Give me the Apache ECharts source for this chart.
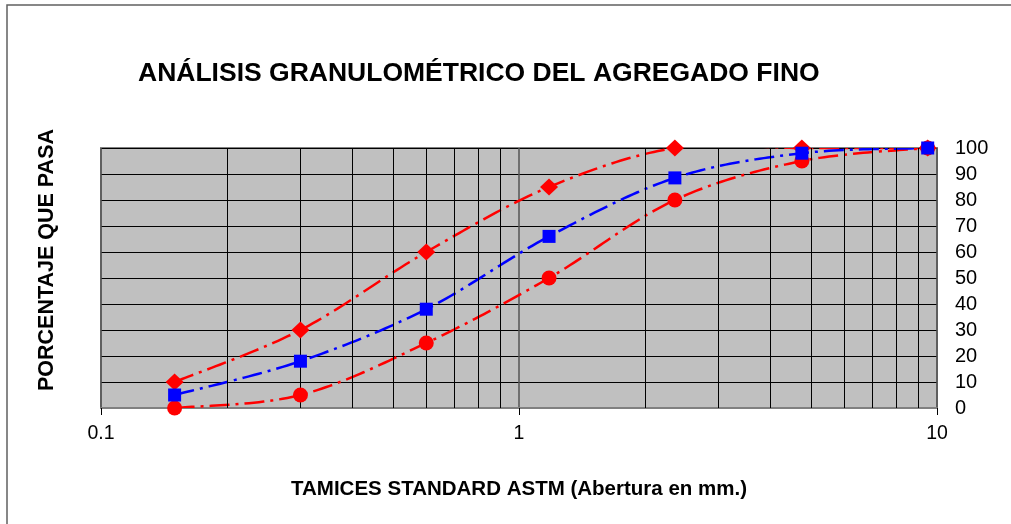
<!DOCTYPE html>
<html>
<head>
<meta charset="utf-8">
<script src="https://cdn.jsdelivr.net/npm/echarts@6/dist/echarts.min.js"></script>
<style>
  html, body { margin: 0; padding: 0; background: #fff; }
  #chart { width: 1011px; height: 524px; }
</style>
</head>
<body>
<div id="chart"></div>
<script>
// Sieve openings (mm)
const sieves = [0.15, 0.3, 0.6, 1.18, 2.36, 4.75, 9.5];
// Upper grading limit (red diamonds)
const upperLimit = [10, 30, 60, 85, 100, 100, 100];
// Sample (blue squares)
const sample = [5, 18, 38, 66, 88.5, 98, 100];
// Lower grading limit (red circles)
const lowerLimit = [0, 5, 25, 50, 80, 95, 100];
// Log-axis minor grid values
const minorGridX = [0.2, 0.3, 0.4, 0.5, 0.6, 0.7, 0.8, 0.9, 2, 3, 4, 5, 6, 7, 8, 9];
const xTickLabels = { 0.1: '0.1', 1: '1', 10: '10' };

const FONT = 'Liberation Sans, Arial, sans-serif';
const dashDot = [20, 6, 3, 6];

function pairs(ys) { return sieves.map((x, i) => [x, ys[i]]); }

// Smooth (Catmull-Rom style, like spreadsheet smoothed lines) curve through data, via the axis scales
function smoothCurveSeries(ys, color, z) {
  return {
    type: 'custom',
    coordinateSystem: 'cartesian2d',
    clip: true,
    silent: true,
    z: z,
    data: [[sieves[0], ys[0]]],
    renderItem: function (params, api) {
      const p = sieves.map((x, i) => api.coord([x, ys[i]]));
      const n = p.length;
      const out = [];
      for (let i = 0; i < n - 1; i++) {
        const p0 = p[Math.max(i - 1, 0)], p1 = p[i], p2 = p[i + 1], p3 = p[Math.min(i + 2, n - 1)];
        const c1 = [p1[0] + (p2[0] - p0[0]) / 6, p1[1] + (p2[1] - p0[1]) / 6];
        const c2 = [p2[0] - (p3[0] - p1[0]) / 6, p2[1] - (p3[1] - p1[1]) / 6];
        const steps = 30;
        for (let s = (i === 0 ? 0 : 1); s <= steps; s++) {
          const t = s / steps, u = 1 - t;
          out.push([
            u*u*u*p1[0] + 3*u*u*t*c1[0] + 3*u*t*t*c2[0] + t*t*t*p2[0],
            u*u*u*p1[1] + 3*u*u*t*c1[1] + 3*u*t*t*c2[1] + t*t*t*p2[1]
          ]);
        }
      }
      const cs = params.coordSys;
      return {
        type: 'polyline',
        shape: { points: out },
        style: { stroke: color, lineWidth: 2.5, lineDash: dashDot, fill: null },
        clipPath: { type: 'rect', shape: { x: cs.x, y: cs.y - 1, width: cs.width, height: cs.height + 1 } }
      };
    }
  };
}

function markerSeries(ys, symbol, size, color, z) {
  return {
    type: 'line',
    data: pairs(ys),
    z: z,
    symbol: symbol,
    symbolSize: size,
    showAllSymbol: true,
    itemStyle: { color: color },
    lineStyle: { width: 0, opacity: 0 },
    clip: false
  };
}

const chart = echarts.init(document.getElementById('chart'), null, { renderer: 'canvas' });

chart.setOption({
  animation: false,
  backgroundColor: '#ffffff',
  title: {
    text: 'ANÁLISIS GRANULOMÉTRICO DEL AGREGADO FINO',
    left: 133,
    top: 55,
    textStyle: { fontFamily: FONT, fontWeight: 'bold', fontSize: 26.5, color: '#000' }
  },
  graphic: [
    {
      type: 'rect',
      shape: { x: 7, y: 5, width: 1100, height: 600 },
      style: { fill: 'none', stroke: '#606060', lineWidth: 1.5 },
      silent: true, z: -10
    },
    {
      type: 'text',
      x: 47, y: 260,
      rotation: Math.PI / 2,
      style: {
        text: 'PORCENTAJE QUE PASA',
        font: 'bold 21.5px ' + FONT,
        fill: '#000',
        textAlign: 'center',
        textVerticalAlign: 'middle'
      },
      silent: true
    }
  ],
  grid: {
    left: 101, right: 74, top: 148, bottom: 116,
    show: true,
    backgroundColor: '#C0C0C0',
    borderColor: '#808080',
    borderWidth: 2
  },
  xAxis: {
    type: 'log',
    logBase: 10,
    min: 0.1,
    max: 10,
    name: 'TAMICES STANDARD ASTM (Abertura en mm.)',
    nameLocation: 'middle',
    nameGap: 71,
    nameTextStyle: { fontFamily: FONT, fontWeight: 'bold', fontSize: 20.5, color: '#000' },
    axisLine: { show: true, lineStyle: { color: '#808080', width: 2 } },
    axisTick: { show: true, length: 7, lineStyle: { color: '#000', width: 1 } },
    axisLabel: {
      fontFamily: FONT, fontSize: 19.5, color: '#000', margin: 16,
      formatter: v => xTickLabels[v] !== undefined ? xTickLabels[v] : String(v)
    },
    splitLine: { show: true, lineStyle: { color: '#555', width: 1.5 } },
    minorTick: { show: false },
    minorSplitLine: { show: false }
  },
  yAxis: {
    type: 'value',
    position: 'right',
    min: 0, max: 100, interval: 10,
    axisLine: { show: false },
    axisTick: { show: false },
    axisLabel: { fontFamily: FONT, fontSize: 20, color: '#000', margin: 18 },
    splitLine: { show: true, lineStyle: { color: '#000', width: 1 } }
  },
  series: [
    {
      name: 'minorGrid',
      type: 'line',
      data: [],
      silent: true,
      z: 1,
      markLine: {
        silent: true,
        symbol: 'none',
        label: { show: false },
        lineStyle: { color: '#000', width: 1, type: 'solid' },
        emphasis: { disabled: true },
        data: minorGridX.map(v => ({ xAxis: v }))
      }
    },
    smoothCurveSeries(upperLimit, '#FF0000', 3),
    smoothCurveSeries(lowerLimit, '#FF0000', 3),
    smoothCurveSeries(sample, '#0000FF', 3),
    markerSeries(upperLimit, 'diamond', [18, 17], '#FF0000', 5),
    markerSeries(lowerLimit, 'circle', 15, '#FF0000', 6),
    markerSeries(sample, 'rect', 13, '#0000FF', 7)
  ]
});
</script>
</body>
</html>
